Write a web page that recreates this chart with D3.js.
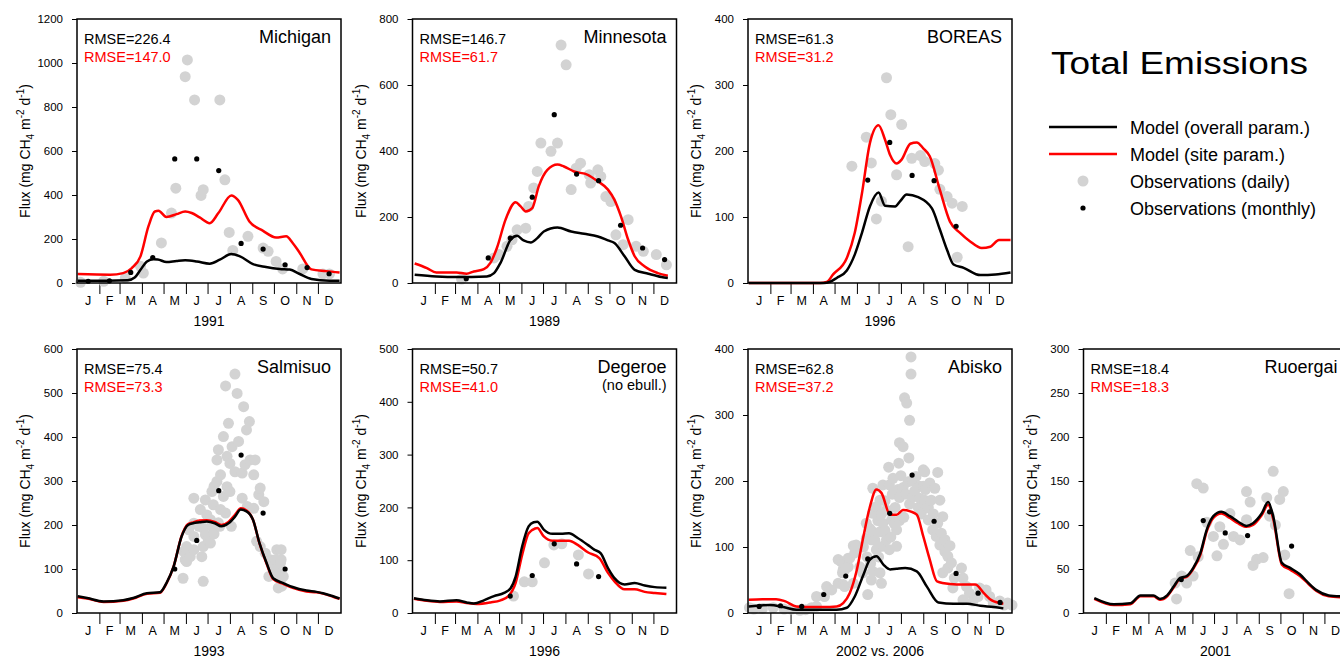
<!DOCTYPE html>
<html>
<head>
<meta charset="utf-8">
<script src="https://cdn.jsdelivr.net/npm/d3@7"></script>
<style>
body { margin: 0; background: #fff; }
svg { font-family: "Liberation Sans", Arial, Helvetica, sans-serif; }
</style>
</head>
<body>
<svg id="chart" width="1340" height="658"></svg>
<script>
// months and month boundaries (day of year)
const months = ["J", "F", "M", "A", "M", "J", "J", "A", "S", "O", "N", "D"];
const monthEdges = [0, 31, 59, 90, 120, 151, 181, 212, 243, 273, 304, 334, 365];

// Michigan 1991
const michOverall = [[1,10],[40,10],[70,12],[80,25],[88,60],[97,98],[106,108],[112,107],[124,95],[138,100],[150,103],[166,98],[184,88],[198,106],[214,132],[226,121],[244,86],[262,73],[281,64],[295,61],[308,42],[325,18],[350,10],[364,10]];
const michSite = [[1,41],[46,38],[64,45],[76,68],[88,121],[99,257],[108,325],[113,328],[124,300],[138,313],[150,325],[159,318],[170,298],[184,272],[196,318],[214,398],[223,378],[239,280],[258,237],[276,207],[290,212],[299,182],[308,141],[325,62],[345,54],[364,48]];
const michDaily = [[5,3],[37,8],[67,23],[88,76],[92,45],[117,182],[131,318],[137,431],[150,938],[153,1014],[163,832],[172,398],[175,424],[198,832],[205,469],[211,230],[216,148],[237,212],[258,159],[265,144],[276,98],[285,64],[313,64],[341,41],[350,41]];
const michMonthly = [8,10,48,116,564,564,511,180,154,83,70,42];

// Minnesota 1989
const minnOverall = [[3,25],[33,20],[61,18],[103,20],[113,30],[122,61],[136,131],[145,143],[154,129],[164,123],[173,136],[182,156],[201,168],[220,156],[238,149],[257,141],[271,129],[280,121],[294,81],[308,40],[327,28],[345,18],[354,15]];
const minnSite = [[3,59],[20,45],[33,32],[61,32],[75,28],[85,35],[99,42],[108,61],[117,106],[129,192],[143,245],[150,232],[157,217],[166,227],[175,293],[187,343],[201,359],[210,353],[224,338],[243,328],[257,308],[271,283],[280,252],[289,202],[299,131],[308,81],[322,50],[340,30],[354,22]];
const minnDaily = [[68,12],[113,76],[120,86],[131,111],[138,131],[145,161],[157,166],[161,232],[168,288],[173,338],[178,424],[192,399],[201,424],[206,721],[213,661],[220,283],[227,348],[233,363],[245,328],[247,303],[257,343],[261,323],[268,262],[275,247],[282,146],[292,116],[299,192],[310,111],[320,96],[338,86],[352,55]];
const minnMonthly = [null,null,13,76,136,260,510,330,310,175,106,71];

// BOREAS 1996
const borOverall = [[1,0],[105,0],[113,1.5],[123,7.6],[137,19],[148,43],[158,76],[169,116],[181,137],[190,117],[204,116],[211,124],[220,134],[236,130],[255,113],[266,81],[276,50],[285,28],[299,23],[322,12],[343,13],[364,16]];
const borSite = [[1,0],[100,0],[109,1.5],[118,13],[137,38],[148,76],[158,136],[169,212],[181,239],[190,217],[197,194],[206,181],[213,187],[225,211],[234,213],[243,204],[252,192],[266,141],[280,93],[294,76],[308,63],[324,53],[336,55],[348,65],[364,65]];
const borDaily = [[144,177],[164,221],[171,182],[178,97],[185,124],[192,311],[198,255],[206,164],[213,240],[222,55],[227,189],[239,193],[245,184],[259,181],[264,171],[266,142],[276,131],[283,121],[290,39],[297,116]];
const borMonthly = [null,null,null,null,null,156,213,163,155,86,null,null];

// Salmisuo 1993
const salOverall = [[1,38],[14,34],[37,26],[64,29],[78,34],[97,45],[115,47],[124,68],[134,106],[145,174],[154,200],[161,204],[170,206],[180,208],[191,204],[200,197],[210,204],[219,219],[227,235],[235,231],[244,212],[253,159],[263,113],[272,79],[286,68],[299,59],[318,51],[332,48],[341,45],[355,38],[364,33]];
const salSite = [[1,36],[14,33],[37,25],[64,28],[78,33],[97,44],[115,46],[124,67],[134,106],[145,175],[154,202],[161,206],[170,210],[180,211],[191,207],[200,200],[210,207],[219,223],[227,238],[235,233],[244,212],[253,158],[263,111],[272,77],[286,66],[299,57],[318,49],[332,47],[341,44],[355,37],[364,32]];
const salDaily = [[147,79],[148,140],[150,121],[152,151],[152,117],[152,144],[155,189],[157,128],[162,261],[162,204],[162,174],[162,144],[169,197],[171,235],[173,128],[175,193],[175,151],[175,72],[178,257],[178,178],[180,223],[182,166],[185,212],[185,159],[187,276],[187,197],[189,246],[190,288],[190,180],[194,348],[194,299],[196,371],[196,205],[198,197],[199,314],[199,235],[203,401],[203,265],[206,516],[206,227],[208,356],[208,287],[210,431],[212,340],[212,276],[214,197],[215,378],[219,543],[219,321],[222,499],[224,390],[229,318],[229,261],[231,469],[233,337],[235,416],[236,242],[239,435],[240,348],[245,314],[245,238],[247,348],[249,163],[252,269],[254,284],[254,151],[259,253],[261,136],[266,83],[268,121],[272,102],[275,121],[277,144],[279,91],[279,57],[282,113],[282,76],[283,121],[283,144],[284,61],[286,83]];
const salMonthly = [null,null,null,null,100,165,278,359,227,100,null,null];

// Degeroe 1996
const degOverall = [[2,28],[20,24],[38,22],[61,24],[75,20],[85,18],[99,24],[113,32],[127,38],[136,47],[143,69],[152,126],[161,164],[168,172],[173,173],[182,158],[194,150],[206,150],[217,151],[229,142],[243,129],[252,120],[261,113],[271,85],[280,66],[294,54],[308,57],[322,52],[336,49],[352,48]];
const degSite = [[2,27],[20,23],[38,21],[61,22],[75,19],[89,17],[108,20],[122,24],[133,32],[143,57],[152,110],[161,151],[170,160],[173,161],[182,145],[194,137],[206,137],[217,137],[229,129],[243,115],[259,104],[271,76],[280,60],[294,45],[308,45],[322,40],[336,38],[352,36]];
const degDaily = [[140,32],[155,59],[166,59],[183,95],[196,129],[207,131],[230,110],[244,74]];
const degMonthly = [null,null,null,null,32,71,131,93,69,null,null,null];

// Abisko 2002 vs. 2006
const abiOverall = [[1,10],[30,12],[49,9],[67,5],[95,5],[123,5],[137,8],[148,25],[160,58],[169,81],[178,86],[188,73],[197,66],[206,67],[218,68],[234,63],[248,40],[264,16],[285,14],[304,14],[322,11],[341,9],[354,7]];
const abiSite = [[1,20],[20,21],[39,21],[51,18],[67,10],[81,9],[104,9],[123,10],[132,15],[141,30],[151,66],[160,116],[169,161],[178,187],[185,182],[197,149],[206,149],[215,156],[225,154],[234,149],[243,116],[252,81],[262,48],[280,44],[299,43],[315,43],[327,30],[338,19],[354,14]];
const abiDaily = [[2,8],[8,6],[20,7],[35,8],[50,6],[60,6],[72,4],[80,5],[88,8],[95,10],[95,25],[106,25],[109,40],[116,35],[125,45],[125,81],[129,78],[132,66],[132,76],[131,61],[132,43],[134,65],[134,40],[139,83],[139,70],[141,83],[146,102],[146,45],[148,91],[150,103],[155,70],[159,61],[160,100],[164,136],[164,113],[165,85],[166,28],[169,128],[170,75],[171,111],[171,50],[173,151],[173,123],[173,63],[173,189],[176,110],[178,161],[178,96],[180,140],[181,85],[183,171],[183,123],[183,61],[185,45],[185,150],[187,194],[187,136],[187,101],[190,170],[190,125],[192,156],[192,111],[195,221],[196,194],[196,96],[198,115],[199,141],[200,180],[201,204],[203,135],[204,160],[206,126],[206,101],[208,187],[209,227],[210,258],[210,175],[210,140],[212,208],[215,252],[215,190],[216,145],[217,326],[219,180],[220,318],[222,199],[223,235],[224,292],[224,165],[226,388],[226,362],[228,200],[229,176],[231,185],[233,207],[236,160],[238,192],[238,174],[240,150],[243,217],[243,192],[245,214],[245,171],[246,187],[247,166],[247,159],[250,141],[250,160],[252,197],[254,171],[256,126],[257,150],[259,189],[261,116],[263,213],[263,136],[266,171],[266,103],[268,121],[270,146],[270,61],[273,111],[273,93],[277,86],[277,68],[280,102],[282,76],[284,38],[286,53],[296,68],[298,53],[298,20],[303,40],[307,30],[312,18],[319,25],[321,38],[330,35],[335,25],[340,15],[349,18],[355,12],[360,15],[366,12]];
const abiMonthly = [10,11,10,28,56,82,151,209,139,60,30,16];

// Ruoergai 2001
const ruoOverall = [[15,17],[42,10],[65,11],[79,20],[97,20],[106,16],[116,20],[125,30],[134,40],[143,42],[152,51],[162,68],[171,95],[180,110],[191,115],[203,110],[214,104],[226,99],[235,102],[247,113],[256,126],[263,110],[275,57],[287,51],[300,44],[312,34],[323,26],[340,20],[356,19]];
const ruoSite = [[15,16],[42,9],[65,10],[79,19],[97,19],[106,15],[116,19],[125,29],[134,39],[143,41],[152,50],[162,66],[171,93],[180,108],[191,113],[203,108],[214,102],[226,98],[235,100],[247,111],[256,123],[263,107],[275,55],[287,49],[300,42],[312,33],[323,25],[340,19],[356,18]];
const ruoDaily = [[127,34],[129,16],[136,42],[143,34],[148,71],[152,42],[157,147],[159,64],[166,142],[171,103],[180,87],[185,65],[189,98],[194,78],[203,113],[208,87],[217,83],[226,106],[226,138],[231,126],[235,54],[240,61],[249,63],[254,131],[258,110],[263,161],[266,100],[272,129],[277,138],[279,66],[285,22]];
const ruoMonthly = [null,null,null,null,38,105,91,88,115,76,null,null];

const legendLabels = ["Model (overall param.)", "Model (site param.)", "Observations (daily)", "Observations (monthly)"];

const panels = [
  {name: "Michigan", year: "1991", ymax: 1200, step: 200, rmse: ["226.4", "147.0"], overall: michOverall, site: michSite, daily: michDaily, monthly: michMonthly, col: 0, row: 0},
  {name: "Minnesota", year: "1989", ymax: 800, step: 200, rmse: ["146.7", "61.7"], overall: minnOverall, site: minnSite, daily: minnDaily, monthly: minnMonthly, col: 1, row: 0},
  {name: "BOREAS", year: "1996", ymax: 400, step: 100, rmse: ["61.3", "31.2"], overall: borOverall, site: borSite, daily: borDaily, monthly: borMonthly, col: 2, row: 0},
  {name: "Salmisuo", year: "1993", ymax: 600, step: 100, rmse: ["75.4", "73.3"], overall: salOverall, site: salSite, daily: salDaily, monthly: salMonthly, col: 0, row: 1},
  {name: "Degeroe", note: "(no ebull.)", year: "1996", ymax: 500, step: 100, rmse: ["50.7", "41.0"], overall: degOverall, site: degSite, daily: degDaily, monthly: degMonthly, col: 1, row: 1},
  {name: "Abisko", year: "2002 vs. 2006", ymax: 400, step: 100, rmse: ["62.8", "37.2"], overall: abiOverall, site: abiSite, daily: abiDaily, monthly: abiMonthly, col: 2, row: 1},
  {name: "Ruoergai", year: "2001", ymax: 300, step: 50, rmse: ["18.4", "18.3"], overall: ruoOverall, site: ruoSite, daily: ruoDaily, monthly: ruoMonthly, col: 3, row: 1}
];

const W = 264, H = 264;
const svg = d3.select("#chart");
const font = '"Liberation Sans", Arial, Helvetica, sans-serif';

panels.forEach(p => {
  const g = svg.append("g")
    .attr("transform", `translate(${77 + p.col * 335.5},${19 + p.row * 330})`);

  const x = d3.scaleLinear().domain([0, 366]).range([0, W]);
  const y = d3.scaleLinear().domain([0, p.ymax]).range([H, 0]);

  // y axis
  const ya = g.append("g")
    .call(d3.axisLeft(y).tickValues(d3.range(0, p.ymax + 1, p.step)).tickFormat(d3.format("d")).tickSize(5).tickPadding(9))
    .attr("font-size", 11.5).attr("font-family", font);
  ya.select(".domain").remove();
  ya.selectAll("text").attr("fill", "#000");

  // month ticks
  const xa = g.append("g")
    .attr("transform", `translate(0,${H})`)
    .call(d3.axisBottom(x).tickValues(monthEdges.slice(1, -1)).tickSize(11).tickFormat(""));
  xa.select(".domain").remove();

  g.selectAll(".mon")
    .data(months)
    .join("text")
    .attr("x", (d, i) => x((monthEdges[i] + monthEdges[i + 1]) / 2))
    .attr("y", H + 22)
    .attr("text-anchor", "middle")
    .attr("font-size", 12.5)
    .text(d => d);

  g.append("text")
    .attr("x", W / 2).attr("y", H + 43)
    .attr("text-anchor", "middle")
    .attr("font-size", 14)
    .text(p.year);

  // y title
  const yt = g.append("text")
    .attr("transform", `translate(-47,${H / 2}) rotate(-90)`)
    .attr("text-anchor", "middle")
    .attr("font-size", 14);
  yt.append("tspan").text("Flux (mg CH");
  yt.append("tspan").attr("dy", 4).attr("font-size", 10).text("4");
  yt.append("tspan").attr("dy", -4).text(" m");
  yt.append("tspan").attr("dy", -6).attr("font-size", 10).text("-2");
  yt.append("tspan").attr("dy", 6).text(" d");
  yt.append("tspan").attr("dy", -6).attr("font-size", 10).text("-1");
  yt.append("tspan").attr("dy", 6).text(")");

  // daily observations
  g.selectAll(".daily")
    .data(p.daily)
    .join("circle")
    .attr("cx", d => x(d[0]))
    .attr("cy", d => y(d[1]))
    .attr("r", 5.5)
    .attr("fill", "#d3d3d3");

  const line = d3.line()
    .x(d => x(d[0]))
    .y(d => y(d[1]))
    .curve(d3.curveMonotoneX);

  g.append("path").attr("d", line(p.site))
    .attr("fill", "none").attr("stroke", "#ff0000").attr("stroke-width", 2.5);
  g.append("path").attr("d", line(p.overall))
    .attr("fill", "none").attr("stroke", "#000").attr("stroke-width", 2.5);

  // monthly observations
  const monthly = p.monthly
    .map((v, i) => [(monthEdges[i] + monthEdges[i + 1]) / 2, v])
    .filter(d => d[1] != null);
  g.selectAll(".monthly")
    .data(monthly)
    .join("circle")
    .attr("cx", d => x(d[0]))
    .attr("cy", d => y(d[1]))
    .attr("r", 2.6)
    .attr("fill", "#000");

  // box
  g.append("rect")
    .attr("width", W).attr("height", H)
    .attr("fill", "none").attr("stroke", "#000").attr("stroke-width", 1.5);

  g.append("text").attr("x", 7).attr("y", 24.5).attr("font-size", 14.5)
    .text("RMSE=" + p.rmse[0]);
  g.append("text").attr("x", 7).attr("y", 43).attr("font-size", 14.5).attr("fill", "#ff0000")
    .text("RMSE=" + p.rmse[1]);

  g.append("text").attr("x", W - 10).attr("y", 24).attr("text-anchor", "end").attr("font-size", 18)
    .text(p.name);
  if (p.note) {
    g.append("text").attr("x", W - 10).attr("y", 40.5).attr("text-anchor", "end").attr("font-size", 14.5)
      .text(p.note);
  }
});

// legend
svg.append("text")
  .attr("x", 1051).attr("y", 73.5)
  .attr("font-size", 31)
  .attr("textLength", 257).attr("lengthAdjust", "spacingAndGlyphs")
  .text("Total Emissions");

const leg = svg.append("g").attr("transform", "translate(1049,127)");
const rowY = i => i * 27;
leg.append("line").attr("x1", 0).attr("x2", 68).attr("y1", rowY(0)).attr("y2", rowY(0))
  .attr("stroke", "#000").attr("stroke-width", 2.5);
leg.append("line").attr("x1", 0).attr("x2", 68).attr("y1", rowY(1)).attr("y2", rowY(1))
  .attr("stroke", "#ff0000").attr("stroke-width", 2.5);
leg.append("circle").attr("cx", 34).attr("cy", rowY(2)).attr("r", 5.5).attr("fill", "#d3d3d3");
leg.append("circle").attr("cx", 34).attr("cy", rowY(3)).attr("r", 2.6).attr("fill", "#000");
leg.selectAll(".lab")
  .data(legendLabels)
  .join("text")
  .attr("x", 81)
  .attr("y", (d, i) => rowY(i) + 6.5)
  .attr("font-size", 18)
  .text(d => d);
</script>
</body>
</html>
